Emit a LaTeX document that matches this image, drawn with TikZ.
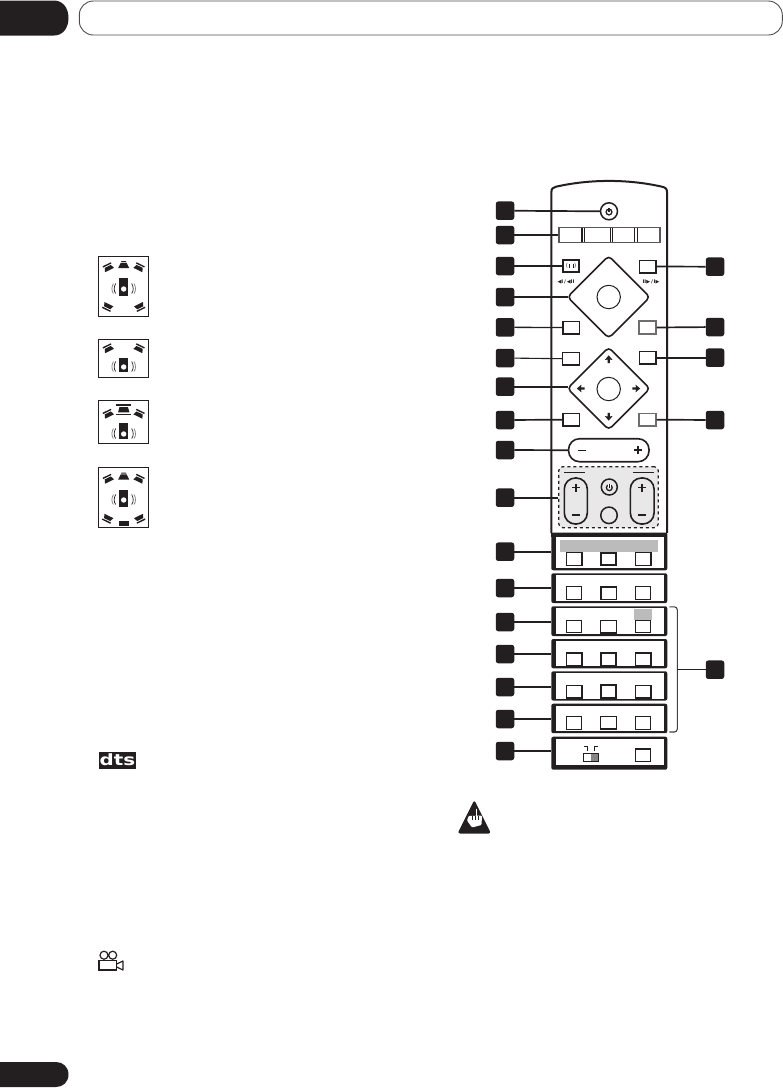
\documentclass[tikz,border=0pt]{standalone}
\usepackage{fontspec}
\setmainfont{DejaVu Sans}
\usetikzlibrary{shapes.geometric}
\definecolor{ink}{HTML}{231F20}
\definecolor{barg}{HTML}{BBBBBB}
\definecolor{softg}{HTML}{E8E8E8}
\tikzset{
  x=1pt,y=-1pt,
  num/.style={rectangle,fill=ink,rounded corners=2.5pt,minimum width=18.5pt,minimum height=18.5pt,inner sep=0pt},
  btn/.style={rectangle,draw=ink,fill=white,line width=1.5pt,minimum width=16.5pt,minimum height=12.5pt,inner sep=0pt},
  btnthin/.style={btn,line width=1.1pt},
  btngray/.style={btn,draw=ink!65,line width=1.6pt},
  pbtn/.style={rectangle,draw=ink,fill=white,line width=1pt,minimum width=15.5pt,minimum height=12.7pt,inner sep=0pt},
  pbtnb/.style={pbtn,line width=1.5pt},
  con/.style={ink,line width=1.7pt},
  conthin/.style={ink,line width=1.1pt},
  dia/.style={diamond,draw=ink,fill=white,line width=1.6pt,rounded corners=4pt,minimum width=83pt,minimum height=83pt,inner sep=0pt,aspect=1},
  rnd/.style={circle,draw=ink,line width=1pt,fill=white,minimum size=23.4pt,inner sep=0pt},
  pow/.style={circle,draw=ink,line width=1.5pt,fill=white,minimum size=17pt,inner sep=0pt},
  pil/.style={rectangle,draw=ink,line width=1.6pt,rounded corners=11pt,inner sep=0pt},
  panelbox/.style={rectangle,fill=ink,rounded corners=2pt,minimum width=116pt,inner sep=0pt},
  icon/.style={rectangle,draw=ink,line width=.9pt,minimum width=50pt,inner sep=0pt},
}
% power symbol
\newcommand{\powsym}[1]{\begin{scope}[shift={(#1)}]
  \draw[ink,line width=1.3pt] (0,0) circle (2.9pt);
  \draw[white,line width=2.4pt] (0,-3.6) -- (0,-1);
  \draw[ink,line width=1.3pt] (0,-4) -- (0,0);
\end{scope}}
% little plus / minus
\newcommand{\plusg}[3][1.7pt]{\draw[ink,line width=#1] (#2-4,#3) -- (#2+4,#3) (#2,#3-4) -- (#2,#3+4);}
\newcommand{\minusg}[3][1.7pt]{\draw[ink,line width=#1] (#2-4,#3) -- (#2+4,#3);}
% small four-way arrow
\newcommand{\smarrow}[3]{\begin{scope}[shift={(#1,#2)},rotate=#3]
  \fill[ink] (0,-4.2) -- (3.8,0.4) -- (1.1,0.1) -- (1.1,3.7) -- (-1.1,3.7) -- (-1.1,0.1) -- (-3.8,0.4) -- cycle;
\end{scope}}
% speaker symbol
\newcommand{\spkr}[3]{\begin{scope}[shift={(#1,#2)},rotate=#3]
  \fill[ink] (-4.6,-3.6) -- (4.6,-3.6) -- (4.6,-2.2) -- (-4.6,-2.2) -- cycle;
  \fill[ink] (-3.4,-1.2) -- (3.4,-1.2) -- (5,2.8) -- (-5,2.8) -- cycle;
\end{scope}}
% centre speaker
\newcommand{\cspk}[2]{\begin{scope}[shift={(#1,#2)}]
  \fill[ink] (-2.2,-4) -- (2.2,-4) -- (2.7,-2.9) -- (-2.7,-2.9) -- cycle;
  \fill[ink] (-3,-2.1) -- (3,-2.1) -- (5.5,3) -- (-5.5,3) -- cycle;
\end{scope}}
% subwoofer with waves; args: x, top, bottom, circle y
\newcommand{\subw}[4]{
  \fill[ink] (#1-4.7,#2) rectangle (#1+4.7,#3);
  \fill[white] (#1,#4) circle (2.7pt);
  \draw[ink,line width=.7pt] (#1-8,#4-5.5) .. controls (#1-10,#4-2) and (#1-10,#4+2) .. (#1-8,#4+4.5);
  \draw[ink!55,line width=.8pt] (#1-10.3,#4-5.5) .. controls (#1-12.3,#4-2) and (#1-12.3,#4+2) .. (#1-10.3,#4+4.5);
  \draw[ink,line width=.7pt] (#1+8,#4-5.5) .. controls (#1+10,#4-2) and (#1+10,#4+2) .. (#1+8,#4+4.5);
  \draw[ink!55,line width=.8pt] (#1+10.3,#4-5.5) .. controls (#1+12.3,#4-2) and (#1+12.3,#4+2) .. (#1+10.3,#4+4.5);
}
% panel: name, top, bottom
\newcommand{\panel}[3]{
  \node[panelbox,minimum height={#3-#2}] (#1) at (609.3,{(#2+#3)/2}) {};
  \fill[white] (555.8,#2+1.9) rectangle (663.6,#3-1.9);
}
\begin{document}
\begin{tikzpicture}
\useasboundingbox (0,0) rectangle (783,1088);
% page tabs
\fill[ink] (0,0.5) -- (54,0.5) .. controls (62,0.5) and (68.5,7) .. (68.5,18) .. controls (68.5,29) and (62,35.5) .. (54,35.5) -- (0,35.5) -- cycle;
\node[rectangle,draw=ink!80,line width=.9pt,rounded corners=14pt,minimum width=703pt,minimum height=34pt,inner sep=0pt] (head) at (430.8,18) {};
\fill[ink] (0,1062) -- (56,1062) .. controls (63,1062) and (68.5,1067) .. (68.5,1074.5) .. controls (68.5,1082) and (63,1087) .. (56,1087) -- (0,1087) -- cycle;

% speaker icons
\node[icon,minimum height=60pt] (ic1) at (123.7,286.3) {};
\spkr{108.3}{267.5}{26}\spkr{139.1}{267.5}{-26}\cspk{123.7}{265}
\subw{123.7}{278}{296}{289}
\spkr{107.7}{306.7}{154}\spkr{139.7}{306.7}{206}
\node[icon,minimum height=38pt] (ic2) at (123.7,358.3) {};
\spkr{108.3}{348.5}{26}\spkr{139.1}{348.5}{-26}
\subw{123.7}{358}{372}{367}
\node[icon,minimum height=42.7pt] (ic3) at (123.7,421.7) {};
\spkr{108.3}{414}{26}\spkr{139.1}{414}{-26}
\fill[ink] (116,404.3) rectangle (131,405.7);
\fill[ink] (119.5,407) -- (127.9,407) -- (129.5,412.4) -- (118,412.4) -- cycle;
\fill[ink] (116,413.6) rectangle (131,415.2);
\subw{123.7}{423}{439}{434}
\node[icon,minimum height=60pt] (ic4) at (123.7,497.7) {};
\spkr{108.3}{479}{26}\spkr{139.1}{479}{-26}\cspk{123.7}{476.5}
\subw{123.7}{490}{507}{500}
\spkr{107.7}{518.5}{154}\spkr{139.7}{518.5}{206}
\fill[ink] (119,520.5) rectangle (129,526);

% dts logo
\fill[ink] (98.7,752.3) rectangle (136,769);
\node[font=\bfseries\fontsize{15.5}{15.5}\selectfont,text=white,inner sep=0pt,xscale=1.28,transform shape] (dts) at (117.4,760.2) {dts};

% camera
\draw[ink,line width=1.2pt] (104,955.2) circle (4pt) (112.7,955.2) circle (4pt);
\draw[ink,line width=1.2pt] (99,960.5) rectangle (116.7,970);
\draw[ink,line width=1.2pt,line join=round] (116.7,964) -- (123,961) -- (123,970) -- (116.7,967);

% caution sign
\fill[ink,rounded corners=2.5pt] (474.3,800) -- (491,833.5) -- (457.6,833.5) -- cycle;
\fill[white,rounded corners=1pt] (468.5,816) -- (482,815.5) -- (481.5,825) -- (472,827.5) -- (467,820.5) -- cycle;
\draw[white,line width=1.7pt] (476.5,808.5) -- (476.5,817);
\draw[ink,line width=.5pt] (472.3,816) -- (472.3,820) (475,816) -- (475,820) (478,816) -- (478,820);

% remote body
\draw[ink,line width=2pt] (551.4,533) -- (551.4,192) .. controls (551.4,188.5) and (553,187.5) .. (556,186.7) .. controls (590,179) and (628,179) .. (662,186.7) .. controls (665.3,187.5) and (667,188.5) .. (667,192) -- (667,533);

% top group
\node[pow] (pw) at (609,211.3) {};
\powsym{609,212}
\node[rectangle,draw=ink!75,line width=1.6pt,minimum width=101pt,minimum height=15.2pt,inner sep=0pt] (strip) at (609.3,235) {};
\draw[ink,line width=1.1pt] (582,228) -- (582,242.3) (584.7,228) -- (584.7,242.3) (610.3,228) -- (610.3,242.3) (612.8,228) -- (612.8,242.3) (634.6,228) -- (634.6,242.3) (637.3,228) -- (637.3,242.3);

\node[btn,line width=1.7pt] (bL1) at (571,266) {};
\node[ink,font=\fontsize{5.5}{5.5}\selectfont,inner sep=0pt] (glw) at (571,266) {(\kern.6pt\rule{1pt}{3.6pt}\kern3pt\rule{1pt}{3.6pt}\kern.6pt)};
\node[btn] (bR1) at (647.5,266.5) {};
\node[btn] (bL2) at (571,327.5) {};
\node[btngray] (bR2) at (647.5,327.5) {};
\node[btnthin] (bL3) at (571,358.7) {};
\node[btn] (bR3) at (647.5,357.7) {};
\node[btn] (bL4) at (571,419.7) {};
\node[btngray] (bR4) at (647.5,419.7) {};
\node[ink,font=\bfseries\fontsize{5}{5}\selectfont,inner sep=0pt] (lab1) at (566,282) {◀I\,/\,◀II};
\node[ink,font=\bfseries\fontsize{5}{5}\selectfont,inner sep=0pt] (lab2) at (651,282) {II▶\,/\,I▶};

\node[dia] (d1) at (608.7,297) {};
\node[rnd] (c1) at (608.7,297) {};
\node[dia] (d2) at (608.7,388.5) {};
\node[rnd] (c2) at (608.7,389) {};
\smarrow{608.7}{359.5}{0}\smarrow{608.7}{416.5}{180}\smarrow{581}{388.5}{90}\smarrow{636}{388.5}{-90}

% volume pill
\node[pil,fill=white,minimum width=80.5pt,minimum height=23pt] (vol) at (608.8,450.2) {};
\minusg[1.2pt]{581.5}{450.3}
\plusg{637.7}{450.2}

% dashed group
\node[rectangle,draw=ink,dashed,fill=softg,line width=1.2pt,rounded corners=4pt,minimum width=99.6pt,minimum height=61pt,inner sep=0pt] (grp) at (608.5,497.2) {};
\draw[ink,line width=.8pt] (564.3,472) -- (584.7,472) (633,472) -- (654,472);
\node[pil,minimum width=23pt,minimum height=46pt] (pL) at (575.8,501) {};
\node[pil,minimum width=23.7pt,minimum height=46pt] (pR) at (642.2,501) {};
\plusg{576}{487.5}\minusg{576}{515}
\plusg{642.3}{487.5}\minusg{642.3}{515}
\node[pow,fill=softg,minimum size=16pt] (pw2) at (609.3,487) {};
\powsym{609.3,487.7}
\node[pow,fill=softg,minimum size=16.5pt] (cc) at (609,515.3) {};

% panels
\panel{P1}{532.5}{570.3}
\fill[ink] (551.4,532.5) rectangle (667.2,537);
\fill[barg] (560,540) rectangle (658,552);
\node[pbtnb] (a1) at (574,559) {};\node[pbtnb,line width=1.8pt] (a2) at (608.5,559) {};\node[pbtnb] (a3) at (643,559) {};
\panel{P2}{573.3}{603}
\node[pbtn] (b1) at (574,593.3) {};\node[pbtnb] (b2) at (608.5,593.3) {};\node[pbtn] (b3) at (643,593.3) {};
\panel{P3}{606.3}{636}
\fill[barg] (634,609) rectangle (652,620);
\node[pbtn] (e1) at (574,626.5) {};\node[pbtnb,line width=1.3pt] (e2) at (608.5,626.5) {};\node[pbtn] (e3) at (643,626.5) {};
\panel{P4}{639}{668.3}
\node[pbtnb] (f1) at (574,659.2) {};\node[pbtnb,line width=1.8pt] (f2) at (608.5,659.2) {};\node[pbtnb] (f3) at (643,659.2) {};
\panel{P5}{671.3}{700.6}
\node[pbtnb] (g1) at (574,691.7) {};\node[pbtnb,line width=1.8pt] (g2) at (608.5,691.7) {};\node[pbtnb] (g3) at (643,691.7) {};
\panel{P6}{703.7}{733.2}
\node[pbtn] (h1) at (574,722.7) {};\node[pbtnb,line width=1.3pt] (h2) at (608.5,722.7) {};\node[pbtn] (h3) at (643,722.7) {};
\node[panelbox,minimum height=33pt] (P7) at (609.3,753.2) {};
\fill[white] (555.8,738.6) rectangle (663.6,765.3);
\node[pbtn,line width=1.2pt] (sb) at (643,755.3) {};
\node[rectangle,draw=ink,fill=white,line width=.8pt,minimum width=14.7pt,minimum height=7.6pt,inner sep=0pt] (sw) at (590.6,757.5) {};
\fill[ink!55] (590.9,754) rectangle (597.7,761);
\draw[ink,line width=.9pt] (583.5,746.7) -- (587.5,746.7) -- (587.5,750.5) (598,746.7) -- (594,746.7) -- (594,750.5);

% number squares, left
\foreach \n/\y in {L1/210.7,L2/235,L3/266,L4/297,L5/327.3,L6/358,L7/386.7,L8/420,L9/450,L10/497.7,L11/551.7,L12/588,L13/622,L14/654,L15/687,L16/719,L17/751}
  \node[num] (\n) at (505,\y) {};
\foreach \n/\y in {R1/266.7,R2/327,R3/357.7,R4/420,R5/669.7}
  \node[num] (\n) at (715,\y) {};

% connectors
\draw[con] (L1) -- (pw.west);
\draw[con] (L2) -- (strip.west);
\draw[conthin] (L3) -- (bL1.west);
\draw[con,shorten >=-2pt] (L4) -- (d1.west);
\draw[con,line width=1.3pt] (L5) -- (bL2.west);
\draw[conthin] (L6) -- (bL3.west);
\draw[con,shorten >=-2pt] (L7) -- (L7-|d2.west);
\draw[con] (L8) -- (bL4.west);
\draw[con] (L9) -- (vol.west);
\draw[con] (L10) -- (L10-|grp.west);
\draw[con] (L11) -- (L11-|P1.west);
\draw[con] (L12) -- (L12-|P2.west);
\draw[con] (L13) -- (L13-|P3.west);
\draw[conthin] (L14) -- (L14-|P4.west);
\draw[con] (L15) -- (L15-|P5.west);
\draw[con] (L16) -- (L16-|P6.west);
\draw[con] (L17) -- (L17-|P7.west);
\draw[con] (R1) -- (bR1.east);
\draw[con] (R2) -- (bR2.east);
\draw[con] (R3) -- (bR3.east);
\draw[con] (R4) -- (bR4.east);
% bracket
\coordinate (brT) at (669.3,606.8);
\coordinate (brB) at (669.3,732);
\coordinate (brM) at (677.3,669.7);
\draw[ink!85,line width=1.1pt,rounded corners=3pt] (brT) -- (677.3,606.8) -- (677.3,732) -- (brB);
\draw[conthin] (R5) -- (brM);
\end{tikzpicture}
\end{document}
